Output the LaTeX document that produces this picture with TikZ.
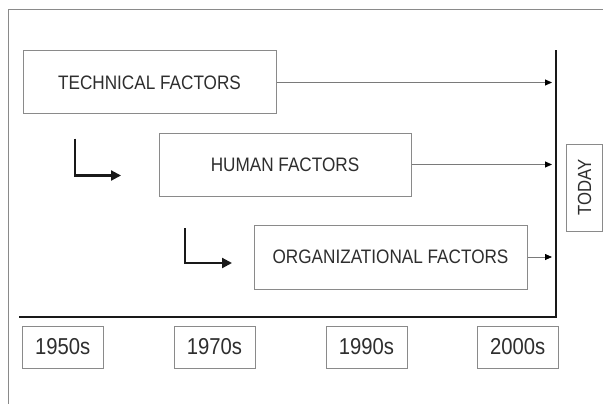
\documentclass[tikz,border=0pt]{standalone}
\usepackage{fontspec}
\setmainfont{Liberation Sans}[FakeStretch=0.88]
\usetikzlibrary{arrows.meta}
\definecolor{boxline}{HTML}{8A8A8A}
\definecolor{thinline}{HTML}{7A7A7A}
\definecolor{ink}{HTML}{2E2E2E}
\tikzset{
  factorbox/.style={draw=boxline, line width=1pt, rectangle, inner sep=0pt,
    minimum height=63pt, text=ink, font=\fontsize{19.5}{20}\selectfont},
  yearbox/.style={draw=boxline, line width=1pt, rectangle, inner sep=0pt,
    minimum width=81pt, minimum height=42pt, text=ink, font=\fontsize{23}{24}\selectfont},
  flowarrow/.style={draw=thinline, line width=0.8pt,
    -{Triangle[length=7pt,width=6pt,color=black]}},
  bentarrow/.style={draw=black!90, line width=2.2pt,
    -{Triangle[length=10pt,width=10pt]}},
  axisline/.style={draw=black!90, line width=2.6pt, line cap=rect},
  frameline/.style={draw=boxline, line width=1pt}
}
\begin{document}
\begin{tikzpicture}[x=1pt,y=-1pt]
\useasboundingbox (0,0) rectangle (603,404);
\fill[white] (0,0) rectangle (603,404);

% outer frame (top and left edges)
\draw[frameline] (8,404) -- (8,9.5) -- (603,9.5);

% factor boxes
\node[factorbox, minimum width=253pt] (tech) at (149.5,82.5) {TECHNICAL FACTORS};
\node[factorbox, minimum width=252pt] (human) at (285,164.5) {HUMAN FACTORS};
\node[factorbox, minimum width=273pt, minimum height=64pt] (org) at (390.5,257) {ORGANIZATIONAL FACTORS};

% time axis and the "today" line
\coordinate (axisL) at (20,317);
\coordinate (axisC) at (556,317);
\coordinate (axisT) at (556,51);
\draw[axisline] (axisL) -- (axisC) -- (axisT);

% arrows running to today
\coordinate (endT) at (552,82.5);
\coordinate (endH) at (552,164.5);
\coordinate (endO) at (552,257);
\draw[flowarrow] (tech.east) -- (endT);
\draw[flowarrow] (human.east) -- (endH);
\draw[flowarrow] (org.east) -- (endO);

% bent arrows between stages
\coordinate (b1s) at (75,138.5);
\coordinate (b1e) at (121,175.5);
\draw[bentarrow] (b1s) |- (b1e);
\coordinate (b2s) at (185,228);
\coordinate (b2e) at (232,263);
\draw[bentarrow] (b2s) |- (b2e);

% today label
\node[draw=boxline, line width=1pt, rectangle, inner sep=0pt,
  minimum width=35.5pt, minimum height=87pt] (todaybox) at (584.5,187.5) {};
\node[rotate=90, text=ink, font=\fontsize{19}{20}\selectfont] (today) at (todaybox.center) {TODAY};

% decades
\node[yearbox] (y1950) at (62.75,347) {1950s};
\node[yearbox] (y1970) at (214.5,347) {1970s};
\node[yearbox] (y1990) at (366.5,347) {1990s};
\node[yearbox] (y2000) at (517.75,347) {2000s};
\end{tikzpicture}
\end{document}
